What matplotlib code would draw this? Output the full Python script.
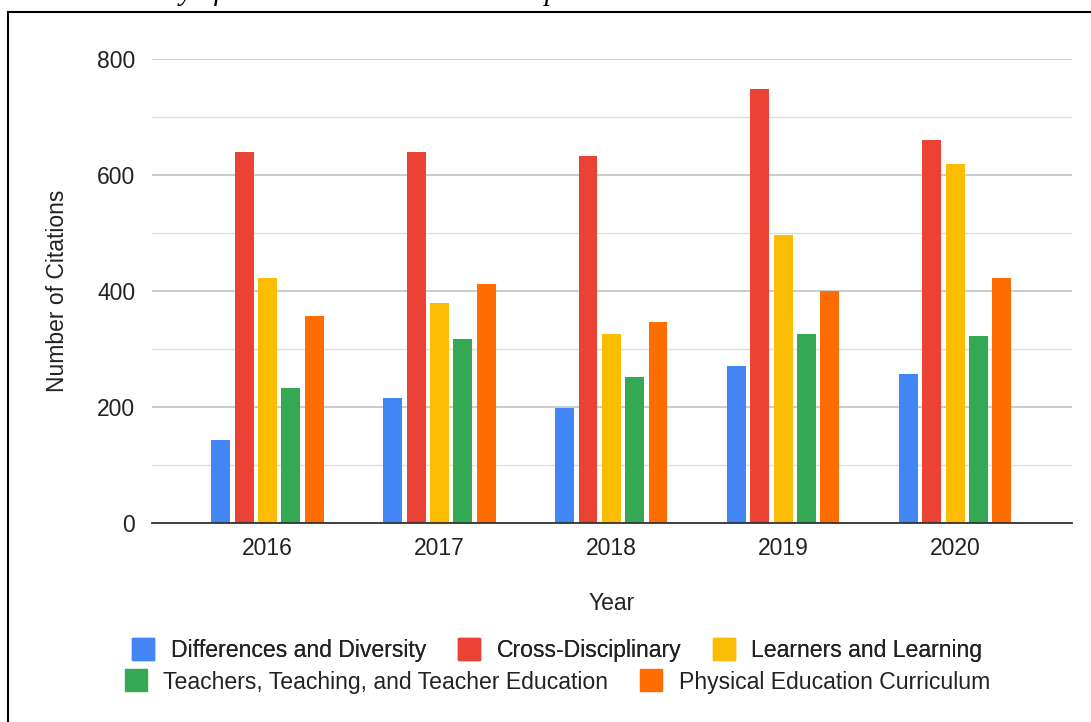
import matplotlib
matplotlib.use('Agg')
import matplotlib.pyplot as plt
from matplotlib.lines import Line2D
import numpy as np

plt.rcParams['font.family'] = ['Liberation Sans', 'DejaVu Sans']

# data
years = ['2016', '2017', '2018', '2019', '2020']
series_names = ['Differences and Diversity', 'Cross-Disciplinary', 'Learners and Learning',
                'Teachers, Teaching, and Teacher Education', 'Physical Education Curriculum']
differences = [143, 216, 198, 271, 257]
cross_disc = [640, 640, 633, 749, 660]
learners = [423, 380, 327, 497, 620]
teachers = [233, 317, 253, 327, 323]
phys_ed = [357, 413, 347, 400, 423]
colors = ['#4285F4', '#EA4335', '#FBBC04', '#34A853', '#FF6D01']

caption = 'Visual summary of citation trends across the top tiers between 2016\u20132020'

#=========================#
# figure
#=========================#

fig = plt.figure(figsize=(10.91, 7.22), dpi=100)
ax = fig.add_axes([0.1393, 0.2752, 0.8433, 0.6427])

x = np.arange(len(years))
step = 0.1357
width = 0.11
all_series = [differences, cross_disc, learners, teachers, phys_ed]
for i, (vals, c) in enumerate(zip(all_series, colors)):
    ax.bar(x + (i - 2) * step, vals, width, color=c, zorder=3)

ax.set_xlim(-0.672, 4.68)
ax.set_ylim(0, 800)
ax.set_yticks([0, 200, 400, 600, 800])
ax.set_yticks([100, 300, 500, 700], minor=True)
ax.set_xticks(x)
ax.set_xticklabels(years)
ax.grid(which='major', axis='y', color='#bdbdbd', linewidth=1.1, zorder=0)
ax.grid(which='minor', axis='y', color='#dedede', linewidth=1.0, zorder=0)
ax.tick_params(which='both', length=0, labelsize=16.5, colors='#222222')
ax.tick_params(axis='y', pad=12)
ax.tick_params(axis='x', pad=10)
for s in ['top', 'right', 'left']:
    ax.spines[s].set_visible(False)
ax.spines['bottom'].set_color('#333333')
ax.spines['bottom'].set_linewidth(1.3)
ax.spines['bottom'].set_zorder(4)

ax.set_ylabel('Number of Citations', fontsize=16.5, color='#222222', labelpad=20)
ax.set_xlabel('Year', fontsize=16.5, color='#222222', labelpad=23)

# two legend rows, each centred
def handle(c):
    return Line2D([], [], linestyle='none', marker='s', markersize=16, color=c)

leg_kw = dict(frameon=False, fontsize=16.6, handlelength=1.0, handletextpad=0.7,
              columnspacing=1.35, labelcolor='#222222')
leg1 = fig.legend([handle(c) for c in colors[:3]], series_names[:3], ncol=3,
                  loc='center', bbox_to_anchor=(557 / 1091, 1 - 651 / 722), **leg_kw)
fig.add_artist(leg1)
fig.legend([handle(c) for c in colors[3:]], series_names[3:], ncol=2,
           loc='center', bbox_to_anchor=(557 / 1091, 1 - 682 / 722), **leg_kw)

# page frame and caption cut off at the top edge, as in the source
fig.add_artist(Line2D([8 / 1091, 8 / 1091], [0, 1 - 11.5 / 722], color='black', linewidth=1.5))
fig.add_artist(Line2D([8 / 1091, 1], [1 - 11.5 / 722, 1 - 11.5 / 722], color='black', linewidth=1.5))
fig.text(10 / 1091, 1 - 0.5 / 722, caption, family='Liberation Serif', style='italic',
         fontsize=20.5, va='baseline', ha='left')

fig.savefig('out.png', dpi=100)
